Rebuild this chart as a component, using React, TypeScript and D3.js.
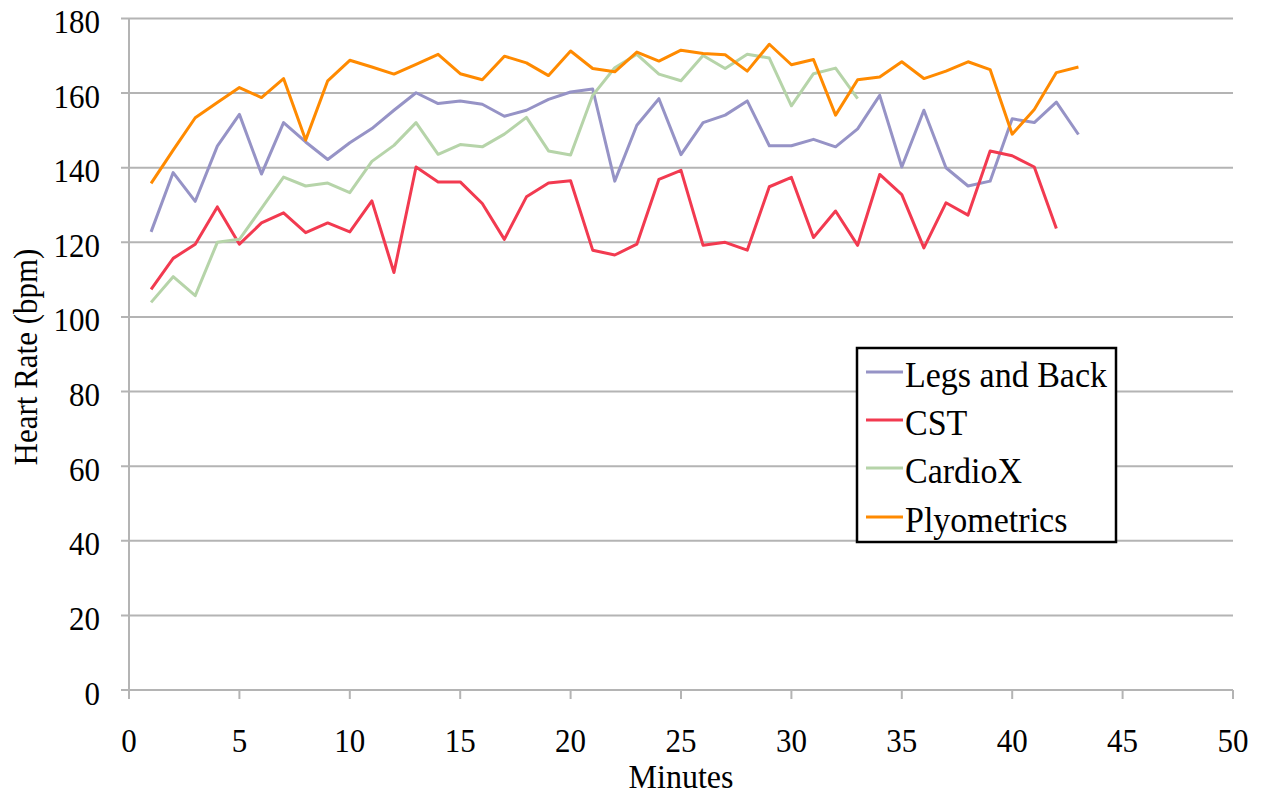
import React from "react";
import * as d3 from "d3";

const minutes = d3.range(1, 44);

const legsAndBack = [122.8, 138.7, 131, 145.8, 154.3, 138.3, 152.1, 146.9, 142.2, 146.7, 150.5, 155.4, 160.1, 157.2, 157.9, 157.0, 153.8, 155.4, 158.3, 160.3, 161.1, 136.4, 151.4, 158.5, 143.5, 152.1, 154.1, 157.9, 145.9, 145.9, 147.6, 145.6, 150.4, 159.4, 140.2, 155.4, 140.0, 135.1, 136.4, 153.1, 152.1, 157.6, 148.9];
const cst = [107.4, 115.7, 119.5, 129.5, 119.5, 125.2, 127.9, 122.6, 125.2, 122.8, 131.1, 111.9, 140.2, 136.2, 136.2, 130.4, 120.8, 132.2, 135.9, 136.5, 117.9, 116.6, 119.5, 136.9, 139.3, 119.2, 120.0, 117.9, 134.9, 137.4, 121.3, 128.4, 119.2, 138.2, 132.8, 118.5, 130.6, 127.3, 144.5, 143.2, 140.2, 123.7];
const cardioX = [103.9, 110.8, 105.7, 120.0, 120.8, 129.1, 137.5, 135.1, 135.9, 133.3, 141.7, 146.0, 152.1, 143.6, 146.2, 145.6, 149.0, 153.5, 144.5, 143.4, 159.4, 166.8, 170.4, 165.1, 163.3, 170.1, 166.6, 170.4, 169.4, 156.6, 165.2, 166.7, 158.5];
const plyometrics = [135.8, 144.7, 153.4, 157.5, 161.5, 158.8, 163.9, 147.4, 163.3, 168.8, 167.0, 165.1, 167.7, 170.4, 165.2, 163.6, 169.9, 168.1, 164.7, 171.3, 166.6, 165.7, 171.0, 168.6, 171.5, 170.6, 170.3, 165.9, 173.1, 167.6, 169.0, 154.1, 163.6, 164.3, 168.4, 163.9, 165.9, 168.4, 166.3, 149.0, 155.6, 165.5, 167.0];

const seriesNames = ["Legs and Back", "CST", "CardioX", "Plyometrics"];
const seriesData = [legsAndBack, cst, cardioX, plyometrics];
const seriesColors = ["#9693c6", "#f23a50", "#b6d4a9", "#ff8a00"];

const xTicks = d3.range(0, 51, 5);
const yTicks = d3.range(0, 181, 20);

export default function App() {
  const left = 129, right = 1233, top = 18.5, bottom = 690;
  const x = d3.scaleLinear().domain([0, 50]).range([left, right]);
  const y = d3.scaleLinear().domain([0, 180]).range([bottom, top]);
  const font = "'Liberation Serif', 'Times New Roman', serif";
  const gridColor = "#b4b4b4";
  const sy = 1.07;

  const line = d3
    .line<number>()
    .x((_, i) => x(minutes[i]))
    .y((d) => y(d));

  const legendX = 857, legendY = 348, legendW = 259, legendH = 194;
  const rowY = [372, 420, 468, 517];

  return (
    <svg
      width={1270}
      height={799}
      style={{ position: "absolute", left: 0, top: 0, background: "#fff" }}
      fontFamily={font}
    >
      {yTicks.map((t) => (
        <g key={"y" + t}>
          <line x1={left - 8} x2={right} y1={y(t)} y2={y(t)} stroke={gridColor} strokeWidth={2} />
          <text
            transform={`translate(100, ${y(t) + 14.5}) scale(1, ${sy})`}
            textAnchor="end"
            fontSize={31}
            fill="#000"
          >
            {t}
          </text>
        </g>
      ))}
      <line x1={left} x2={left} y1={top} y2={bottom} stroke={gridColor} strokeWidth={2} />
      {xTicks.map((t) => (
        <g key={"x" + t}>
          <line x1={x(t)} x2={x(t)} y1={bottom} y2={bottom + 9} stroke={gridColor} strokeWidth={2} />
          <text
            transform={`translate(${x(t)}, 752) scale(1, ${sy})`}
            textAnchor="middle"
            fontSize={31}
            fill="#000"
          >
            {t}
          </text>
        </g>
      ))}
      <text
        transform={`translate(681, 788) scale(1, ${sy})`}
        textAnchor="middle"
        fontSize={32}
        fill="#000"
      >
        Minutes
      </text>
      <text
        transform={`translate(37, 357) rotate(-90) scale(1, ${sy})`}
        textAnchor="middle"
        fontSize={31}
        fill="#000"
      >
        Heart Rate (bpm)
      </text>

      {seriesData.map((s, i) => (
        <path
          key={seriesNames[i]}
          d={line(s) || ""}
          fill="none"
          stroke={seriesColors[i]}
          strokeWidth={3}
          strokeLinejoin="round"
        />
      ))}

      <rect
        x={legendX}
        y={legendY}
        width={legendW}
        height={legendH}
        fill="#fff"
        stroke="#000"
        strokeWidth={2.5}
      />
      {seriesNames.map((n, i) => (
        <g key={"lg" + n}>
          <line x1={866} x2={903} y1={rowY[i]} y2={rowY[i]} stroke={seriesColors[i]} strokeWidth={3} />
          <text
            transform={`translate(905, ${rowY[i] + 14.5}) scale(1, ${sy})`}
            fontSize={34}
            fill="#000"
          >
            {n}
          </text>
        </g>
      ))}
    </svg>
  );
}
